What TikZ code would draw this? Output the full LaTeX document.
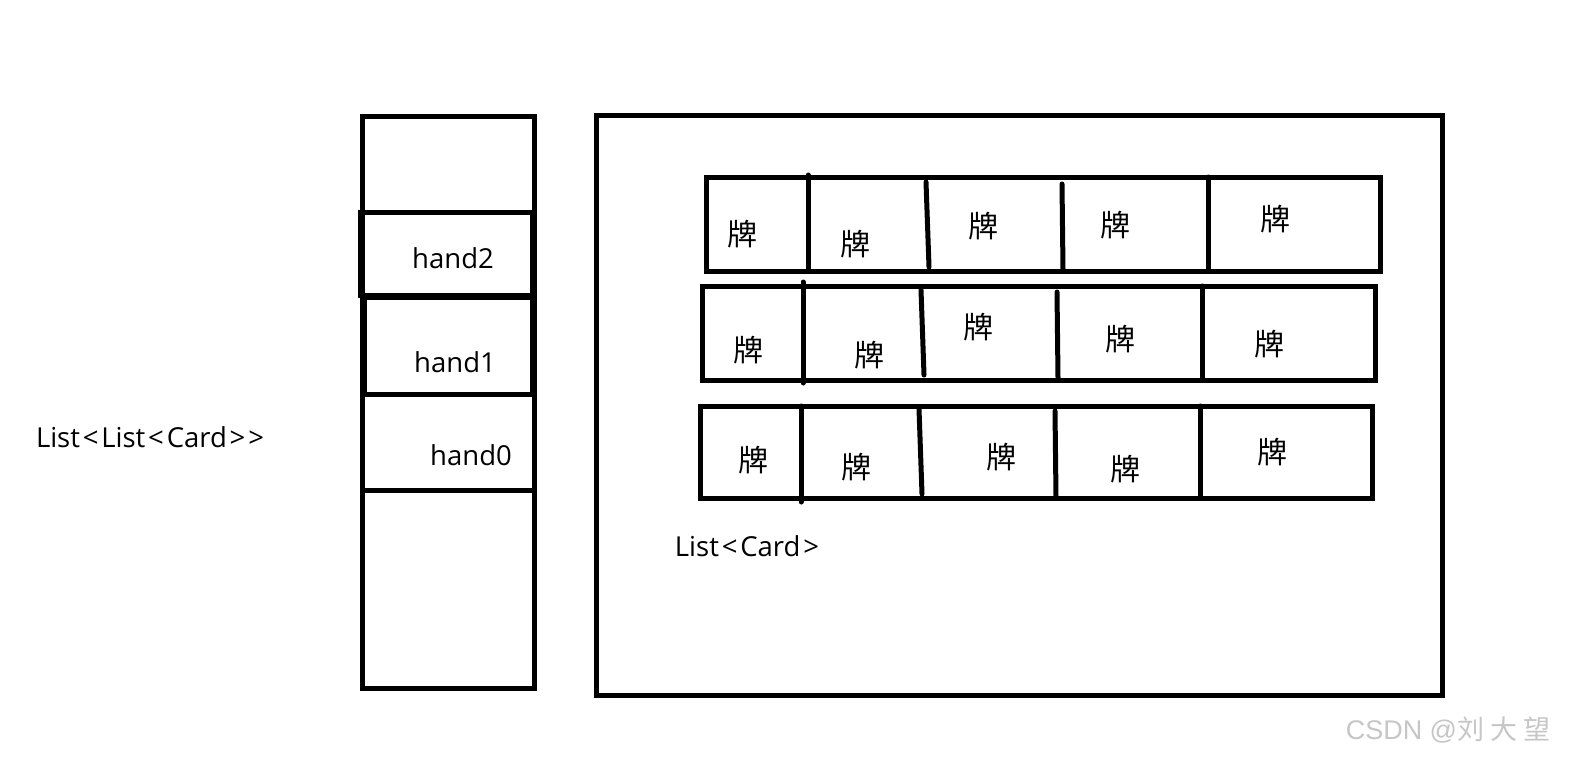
\documentclass[tikz,border=0pt]{standalone}
\usepackage{fontspec}
\setmainfont{Open Sans}
\newfontfamily\cjk{Noto Sans CJK SC}
\newfontfamily\wmfont{Liberation Sans}
\usetikzlibrary{positioning}
\newcommand\gap{\kern2.8pt}

\begin{document}
\begin{tikzpicture}[x=1pt, y=-1pt,
    font=\fontsize{27.5}{30}\selectfont,
    frame/.style={draw, line width=5pt},
    divider/.style={draw, line width=5pt, line cap=round},
    card/.style={inner sep=0pt, font=\cjk\fontsize{30}{32}\selectfont},
    tag/.style={inner sep=0pt},
    stamp/.style={inner sep=0pt, text=gray!45, font=\fontsize{27}{30}\selectfont},
  ]
  \useasboundingbox (0,0) rectangle (1570,758);

  % outer list
  \node[tag] (outer) at (150,437) {List\gap<\gap List\gap<\gap Card\gap>{}\gap>};
  \draw[frame] (362,116) rectangle (534,688);
  \draw[frame] (360,212) rectangle (532,295);
  \draw[frame] (364,297) rectangle (532,394);
  \draw[frame] (362,394) -- (534,394);
  \draw[frame] (362,490) -- (534,490);
  \node[tag] (h2) at (453,258) {hand2};
  \node[tag] (h1) at (455,362) {hand1};
  \node[tag] (h0) at (471,455) {hand0};

  % hands
  \draw[frame] (596,115) rectangle (1442,695);
  \node[tag] (inner) at (747,546) {List\gap<\gap Card\gap>};

  % row 1
  \draw[frame] (706,177) rectangle (1380,271);
  \draw[divider] (808,175) -- (808,271);
  \draw[divider] (926,182) -- (929,267);
  \draw[divider] (1062,184) -- (1063,270);
  \draw[divider] (1208,177) -- (1208,271);
  \node[card] (c11) at (742,234) {牌};
  \node[card] (c12) at (855,244) {牌};
  \node[card] (c13) at (983,226) {牌};
  \node[card] (c14) at (1115,225) {牌};
  \node[card] (c15) at (1275,219) {牌};

  % row 2
  \draw[frame] (702,286) rectangle (1375,380);
  \draw[divider] (803,282) -- (803,383);
  \draw[divider] (921,290) -- (924,375);
  \draw[divider] (1057,292) -- (1058,378);
  \draw[divider] (1202,286) -- (1202,380);
  \node[card] (c21) at (748,350) {牌};
  \node[card] (c22) at (869,355) {牌};
  \node[card] (c23) at (978,327) {牌};
  \node[card] (c24) at (1120,339) {牌};
  \node[card] (c25) at (1269,344) {牌};

  % row 3
  \draw[frame] (700,406) rectangle (1372,498);
  \draw[divider] (801,406) -- (801,502);
  \draw[divider] (919,409) -- (922,494);
  \draw[divider] (1055,411) -- (1056,497);
  \draw[divider] (1200,406) -- (1200,498);
  \node[card] (c31) at (753,460) {牌};
  \node[card] (c32) at (856,467) {牌};
  \node[card] (c33) at (1001,457) {牌};
  \node[card] (c34) at (1125,469) {牌};
  \node[card] (c35) at (1272,452) {牌};

  \node[stamp] (wm) at (1448,730) {\wmfont CSDN @\cjk 刘 大 望};
\end{tikzpicture}
\end{document}
